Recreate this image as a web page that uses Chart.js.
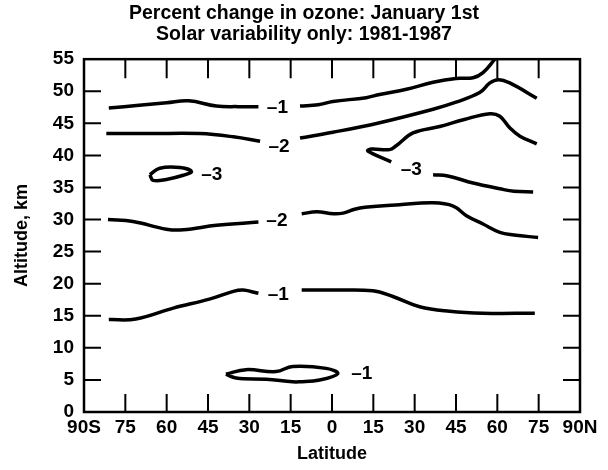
<!DOCTYPE html>
<html>
<head>
<meta charset="utf-8">
<script src="https://cdn.jsdelivr.net/npm/chart.js@4/dist/chart.umd.min.js"></script>
<style>
  html, body { margin: 0; padding: 0; background: #fff; }
  #wrap { width: 608px; height: 470px; }
</style>
</head>
<body>
<div id="wrap"><canvas id="ozone"></canvas></div>
<script>
// contour lines, [latitude, altitude km]; south is negative
const minus1TopWest = [[-81, 47.4], [-70, 47.8], [-60, 48.2], [-52, 48.5], [-42, 47.7], [-34, 47.6], [-26.7, 47.6]];
const minus1TopEast = [[-11.6, 47.7], [-5, 47.9], [0.3, 48.4], [12.4, 49], [17.3, 49.5], [27, 50.3], [36.7, 51.4], [45, 52], [51.2, 52.1], [54.8, 52.9], [59.1, 55]];
const minus2TopWest = [[-81.9, 43.4], [-66, 43.4], [-48, 43.4], [-35.8, 42.9], [-26.1, 42.2]];
const minus2TopEast = [[-11.6, 42.7], [0.3, 43.6], [17.3, 45.1], [36.7, 47.2], [45, 48.3], [53.6, 49.8], [57.3, 51.3], [60.3, 51.8], [64.5, 51.3], [74.3, 48.9]];
const minus3Hook = [[21.5, 39], [13, 40.7], [14.3, 41], [20.9, 40.9], [23.3, 41.5], [29.4, 43.5], [39.1, 44.5], [48, 45.6], [57.3, 46.5], [60.9, 46.1], [64.5, 44.3], [68.2, 43], [74.3, 41.8]];
const minus3East = [[36.7, 37], [42, 36.8], [51.2, 35.7], [60.9, 34.8], [66, 34.4], [73, 34.3]];
const minus3Loop = [[-66.1, 37], [-62.5, 38], [-55.2, 38.1], [-51, 37.5], [-54, 36.9], [-60.1, 36.25], [-64.9, 36.1], [-66.1, 37]];
const minus2MidWest = [[-81.3, 30], [-72.2, 29.7], [-60.1, 28.5], [-54, 28.4], [-41.9, 29.1], [-26.7, 29.6]];
const minus2MidEast = [[-11, 30.9], [-5.5, 31.2], [0.5, 30.9], [4, 31], [8.2, 31.6], [12, 31.9], [24.5, 32.3], [36.7, 32.6], [44, 32.1], [48.8, 30.6], [54.8, 29.3], [60.9, 28], [66, 27.6], [74.8, 27.2]];
const minus1LowWest = [[-81, 14.4], [-71.2, 14.5], [-57.6, 16.2], [-44.5, 17.6], [-35.8, 18.8], [-32.2, 19], [-26.7, 18.5]];
const minus1LowEast = [[-11, 19], [0.5, 19], [14.8, 18.9], [22.1, 18], [31.8, 16.4], [42.7, 15.7], [54.8, 15.4], [73.6, 15.4]];
const minus1Loop = [[-38.5, 5.9], [-31.2, 6.6], [-20.3, 6.3], [-14.3, 7.1], [-2.1, 6.8], [2.1, 6.0], [-4.5, 5.0], [-11.8, 4.7], [-14.3, 4.7], [-23.9, 5.1], [-34.8, 5.3], [-38.5, 5.9]];

const contourLines = [minus1TopWest, minus1TopEast, minus2TopWest, minus2TopEast, minus3Hook, minus3East,
  minus3Loop, minus2MidWest, minus2MidEast, minus1LowWest, minus1LowEast, minus1Loop];

// contour labels
const labelText = ['–1', '–2', '–3', '–3', '–2', '–1', '–1'];
const labelLat = [-19.8, -19.2, -43.6, 28.8, -20, -19.5, 10.8];
const labelAlt = [47.5, 41.4, 37, 37.8, 29.8, 18.2, 5.9];

const latTicks = [-90, -75, -60, -45, -30, -15, 0, 15, 30, 45, 60, 75, 90];

const font = '"Liberation Sans", Arial, sans-serif';

const frame = {
  id: 'frame',
  afterDraw(chart) {
    const { ctx, chartArea: a, scales: { x, y } } = chart;
    ctx.save();
    ctx.strokeStyle = '#000';
    ctx.lineWidth = 2.5;
    ctx.strokeRect(a.left, a.top, a.right - a.left, a.bottom - a.top);
    ctx.lineWidth = 2;
    ctx.beginPath();
    for (let v = 5; v < 55; v += 5) {
      const py = y.getPixelForValue(v);
      ctx.moveTo(a.left, py); ctx.lineTo(a.left + 17, py);
      ctx.moveTo(a.right, py); ctx.lineTo(a.right - 17, py);
    }
    latTicks.slice(1, -1).forEach(v => {
      const px = x.getPixelForValue(v);
      ctx.moveTo(px, a.top); ctx.lineTo(px, a.top + 19);
      ctx.moveTo(px, a.bottom); ctx.lineTo(px, a.bottom - 18);
    });
    ctx.stroke();
    ctx.fillStyle = '#000';
    ctx.font = 'bold 19px ' + font;
    ctx.textAlign = 'center';
    ctx.textBaseline = 'middle';
    labelText.forEach((t, i) => {
      ctx.fillText(t, x.getPixelForValue(labelLat[i]), y.getPixelForValue(labelAlt[i]));
    });
    ctx.restore();
  }
};

new Chart(document.getElementById('ozone'), {
  type: 'line',
  data: {
    datasets: contourLines.map(line => ({
      data: line.map(p => ({ x: p[0], y: p[1] })),
      borderColor: '#000',
      borderWidth: 3.5,
      pointRadius: 0,
      tension: 0.4,
      fill: false
    }))
  },
  options: {
    responsive: true,
    maintainAspectRatio: false,
    animation: false,
    layout: { padding: 0 },
    plugins: {
      legend: { display: false },
      tooltip: { enabled: false },
      title: {
        display: true,
        text: ['Percent change in ozone: January 1st', 'Solar variability only: 1981-1987'],
        color: '#000',
        font: { family: font, size: 19.5, weight: 'bold', lineHeight: 1.03 },
        padding: { top: 4, bottom: 15 }
      }
    },
    scales: {
      x: {
        type: 'linear',
        min: -90, max: 90,
        afterBuildTicks: s => { s.ticks = latTicks.map(v => ({ value: v })); },
        afterFit: s => { s.height = 58; },
        grid: { display: false, drawTicks: false },
        border: { display: false },
        ticks: {
          color: '#000',
          padding: 4,
          maxRotation: 0,
          font: { family: font, size: 19, weight: 'bold' },
          callback: v => v === -90 ? '90S' : v === 90 ? '90N' : String(Math.abs(v))
        },
        title: {
          display: true, text: 'Latitude', color: '#000',
          font: { family: font, size: 18, weight: 'bold' },
          padding: { top: 0, bottom: 5 }
        }
      },
      y: {
        min: 0, max: 55,
        afterFit: s => { s.width = 84; },
        grid: { display: false, drawTicks: false },
        border: { display: false },
        ticks: {
          stepSize: 5,
          color: '#000',
          padding: 10,
          font: { family: font, size: 19, weight: 'bold' }
        },
        title: {
          display: true, text: 'Altitude, km', color: '#000',
          font: { family: font, size: 18, weight: 'bold' },
          padding: { top: 11, bottom: 0 }
        }
      },
      yRight: {
        position: 'right',
        min: 0, max: 55,
        afterFit: s => { s.width = 28; },
        grid: { display: false, drawTicks: false },
        border: { display: false },
        ticks: { display: false }
      }
    }
  },
  plugins: [frame]
});
</script>
</body>
</html>
